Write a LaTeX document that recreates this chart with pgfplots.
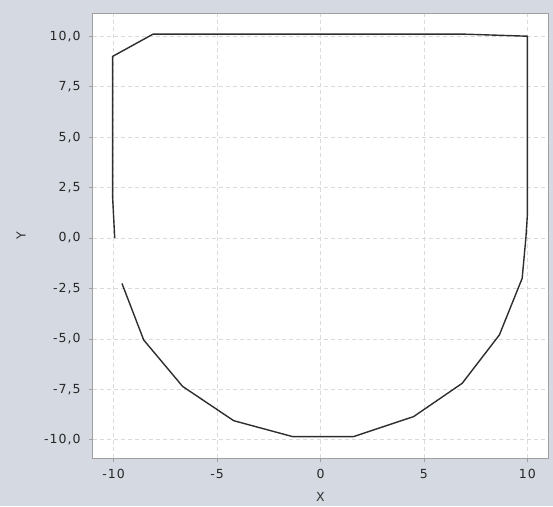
\documentclass[border=0pt]{standalone}
\usepackage{pgfplots}
\pgfplotsset{compat=1.18}
\usepackage{fontspec}
\setmainfont{DejaVu Sans}
\newfontfamily\tickfont[LetterSpace=8]{DejaVu Sans}
\definecolor{bg}{HTML}{D5D9E1}
\definecolor{axgray}{HTML}{A0A0A0}
\definecolor{gridgray}{HTML}{DADADA}
\definecolor{linec}{HTML}{2E2E2E}
\begin{document}
\begin{tikzpicture}
\fill[bg] (-93pt,-48pt) rectangle (460pt,458pt);
\begin{axis}[
  at={(0pt,0pt)}, anchor=south west,
  scale only axis, width=455pt, height=444pt,
  xmin=-11, xmax=11, ymin=-10.9, ymax=11.1,
  axis background/.style={fill=white},
  axis line style={axgray, line width=1pt},
  xtick={-10,-5,0,5,10},
  ytick={-10,-7.5,-5,-2.5,0,2.5,5,7.5,10},
  tick align=outside, tick pos=left,
  major tick length=4pt,
  tick style={axgray, line width=0.8pt},
  grid=major,
  grid style={gridgray, dash pattern=on 4pt off 3pt, line width=0.7pt},
  tick label style={font=\tickfont\fontsize{12.5}{14}\selectfont, text=black!85},
  /pgf/number format/assume math mode=true,
  yticklabel style={xshift=-5pt, /pgf/number format/.cd, use comma, fixed, fixed zerofill, precision=1},
  xticklabel style={yshift=-4pt, /pgf/number format/.cd, fixed, precision=0},
  xlabel={X}, ylabel={Y},
  label style={font=\tickfont\fontsize{12.5}{14}\selectfont, text=black!80},
  xlabel style={at={(axis description cs:0.5,0)}, anchor=center, yshift=-39pt},
  ylabel style={at={(axis description cs:0,0.5)}, anchor=center, rotate=0, yshift=72pt},
]
\addplot[linec, line width=1.4pt, line join=round] coordinates {
 (-9.6,-2.25) (-8.55,-5.05) (-6.67,-7.35) (-4.2,-9.05) (-1.35,-9.84)
 (1.6,-9.84) (4.5,-8.85) (6.85,-7.2) (8.65,-4.8) (9.75,-2.0)
 (9.93,0) (10,1.1) (10,10.0) (7,10.1) (-8.1,10.1) (-10.05,9) (-10.05,2) (-9.95,0)
};
\end{axis}
\end{tikzpicture}
\end{document}
